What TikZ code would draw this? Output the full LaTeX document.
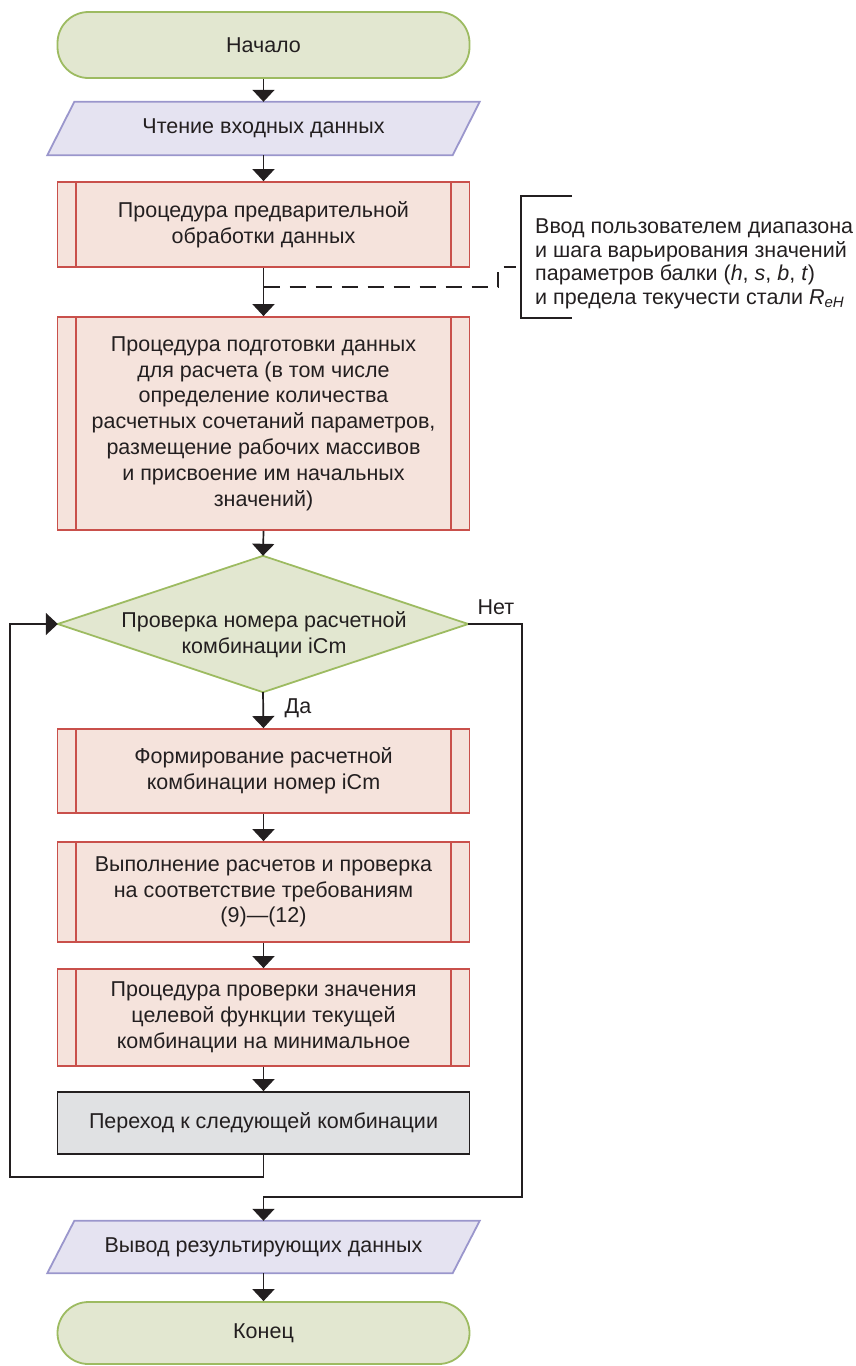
\documentclass[tikz,border=0pt]{standalone}
\usepackage{fontspec}
\setmainfont{Liberation Sans}
\usetikzlibrary{arrows.meta,backgrounds}
\definecolor{termfill}{HTML}{E2E7D0}
\definecolor{termdraw}{HTML}{9DBB61}
\definecolor{iofill}{HTML}{E5E3F1}
\definecolor{iodraw}{HTML}{9A96CC}
\definecolor{prfill}{HTML}{F5E3DC}
\definecolor{prdraw}{HTML}{C9504B}
\definecolor{grfill}{HTML}{E0E1E3}
\definecolor{txt}{HTML}{231F20}
\begin{document}
\begin{tikzpicture}[x=1pt,y=-1pt,
  font=\fontsize{21.5}{25.8}\selectfont, text=txt,
  term/.style={draw=termdraw, fill=termfill, line width=1.8pt, rounded corners=31pt,
    minimum width=412pt, inner sep=0pt},
  proc/.style={draw=prdraw, fill=prfill, line width=1.8pt, minimum width=412pt,
    inner sep=0pt, align=center},
  plain/.style={inner sep=0pt, align=center},
  iobox/.style={draw=iodraw, fill=iofill, line width=1.8pt},
  decbox/.style={draw=termdraw, fill=termfill, line width=1.8pt},
  grbox/.style={draw=txt, fill=grfill, line width=1.8pt, minimum width=412pt, inner sep=0pt},
  conn/.style={draw=txt, line width=1.7pt},
  arr/.style={conn, -{Triangle[width=22pt,length=12pt]}},
  dashconn/.style={draw=txt, line width=1.7pt, dash pattern=on 16pt off 10pt}
]
\useasboundingbox (0,0) rectangle (856,1366);

% start
\node[term, minimum height=66pt] (start) at (263.5,45) {Начало};

% input parallelogram
\node[plain, minimum width=405pt, minimum height=53pt] (in) at (263.5,128.5) {Чтение входных данных};
\begin{pgfonlayer}{background}
\draw[iobox] ([xshift=13.5pt]in.north west) -- ([xshift=13.5pt]in.north east)
  -- ([xshift=-13.5pt]in.south east) -- ([xshift=-13.5pt]in.south west) -- cycle;
\end{pgfonlayer}

% procedure 1
\node[proc, minimum height=85pt] (p1) at (263.5,224.5) {Процедура предварительной\\обработки данных};
% procedure 2
\node[proc, minimum height=213pt] (p2) at (263.5,423.5) {Процедура подготовки данных\\для расчета (в том числе\\определение количества\\расчетных сочетаний параметров,\\размещение рабочих массивов\\и присвоение им начальных\\значений)};

% decision
\node[plain, minimum width=410pt, minimum height=136pt] (dec) at (263,624) {};
\begin{pgfonlayer}{background}
\draw[decbox] (dec.north) -- (dec.east) -- (dec.south) -- (dec.west) -- cycle;
\end{pgfonlayer}
\node[plain] (dectext) at (264,635) {Проверка номера расчетной\\комбинации iCm};

% procedures 3-5
\node[proc, minimum height=84pt] (p3) at (263.5,771) {Формирование расчетной\\комбинации номер iCm};
\node[proc, minimum height=100pt] (p4) at (263.5,892) {Выполнение расчетов и проверка\\на соответствие требованиям\\(9)—(12)};
\node[proc, minimum height=97pt] (p5) at (263.5,1017.5) {Процедура проверки значения\\целевой функции текущей\\комбинации на минимальное};

% gray box
\node[grbox, minimum height=62pt] (gr) at (263.5,1123) {Переход к следующей комбинации};

% output parallelogram
\node[plain, minimum width=405pt, minimum height=52pt] (out) at (263.5,1247) {Вывод результирующих данных};
\begin{pgfonlayer}{background}
\draw[iobox] ([xshift=13.5pt]out.north west) -- ([xshift=13.5pt]out.north east)
  -- ([xshift=-13.5pt]out.south east) -- ([xshift=-13.5pt]out.south west) -- cycle;
\end{pgfonlayer}

% end
\node[term, minimum height=62pt] (end) at (263.5,1333) {Конец};

% inner lines of predefined-process boxes
\foreach \n in {p1,p2,p3,p4,p5}{
  \draw[draw=prdraw, line width=1.5pt] ([xshift=19.5pt]\n.north west) -- ([xshift=19.5pt]\n.south west);
  \draw[draw=prdraw, line width=1.5pt] ([xshift=-19.5pt]\n.north east) -- ([xshift=-19.5pt]\n.south east);
}

% main connectors
\draw[arr] (start.south) -- (in.north);
\draw[arr] (in.south) -- (p1.north);
\draw[arr] (p1.south) -- (p2.north);
\draw[arr] (p2.south) -- (dec.north);
\draw[arr] (dec.south) -- (p3.north);
\draw[arr] (p3.south) -- (p4.north);
\draw[arr] (p4.south) -- (p5.north);
\draw[arr] (p5.south) -- (gr.north);
\draw[arr] (out.south) -- (end.north);

% loop back
\coordinate (lb) at (10,1177);
\coordinate (lt) at (10,624);
\coordinate (gb) at (263.5,1177);
\draw[arr] (gr.south) -- (gb) -- (lb) -- (lt) -- (dec.west);

% "no" branch
\coordinate (nr) at (522,624);
\coordinate (nb) at (522,1197);
\coordinate (nm) at (263.5,1197);
\draw[arr] (dec.east) -- (nr) -- (nb) -- (nm) -- (out.north);

\node[plain] (net) at (496,607) {Нет};
\node[plain] (da) at (298,708) {Да};

% annotation
\coordinate (d0) at (263.5,287);
\coordinate (d1) at (498,287);
\coordinate (d2) at (498,267);
\coordinate (d3) at (516,267);
\draw[dashconn] (d0) -- (d1) -- (d2) -- (d3);
\coordinate (bt) at (572,196);
\coordinate (btl) at (521,196);
\coordinate (bbl) at (521,318);
\coordinate (bb) at (572,318);
\draw[conn] (bt) -- (btl) -- (bbl) -- (bb);
\node[inner sep=0pt, align=left, anchor=west, font=\fontsize{21.5}{23.5}\selectfont] (note) at (535,264)
  {Ввод пользователем диапазона\\и шага варьирования значений\\параметров балки (\textit{h}, \textit{s}, \textit{b}, \textit{t})\\и предела текучести стали \textit{R}\textsubscript{\textit{eH}}};
\end{tikzpicture}
\end{document}
